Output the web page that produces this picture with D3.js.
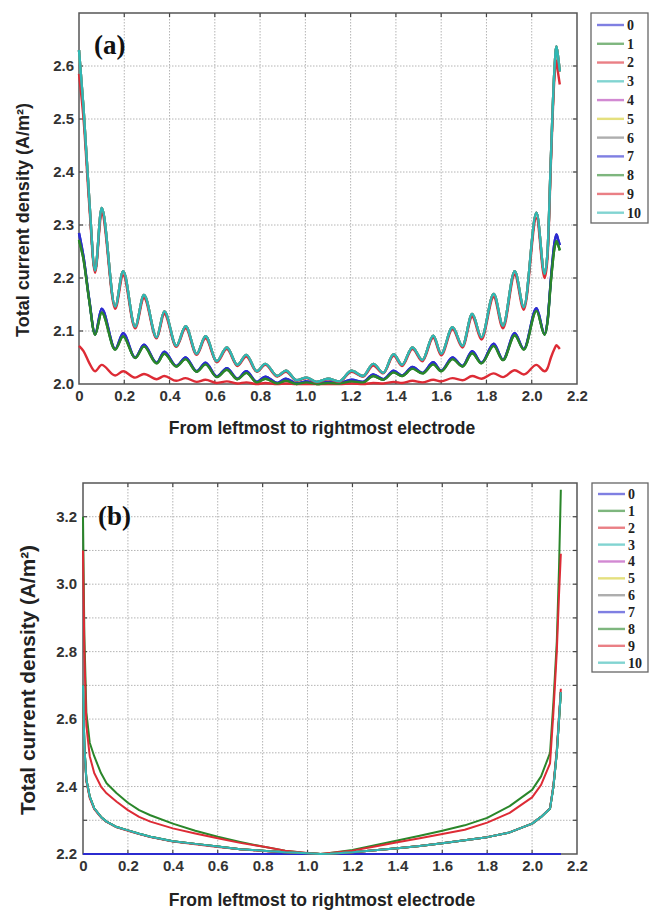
<!DOCTYPE html>
<html>
<head>
<meta charset="utf-8">
<script src="https://cdn.jsdelivr.net/npm/d3@7"></script>
<style>
  html, body { margin: 0; padding: 0; background: #fff; }
  svg { display: block; }
</style>
</head>
<body>
<svg id="chart" width="649" height="911"></svg>
<script>
// ---- shared labels ----
const seriesNames = ['0', '1', '2', '3', '4', '5', '6', '7', '8', '9', '10'];
const seriesColors = ['#2b2bd0', '#2a862a', '#dd2b35', '#2fb8b4', '#b53cb5', '#d4cc2a',
                      '#7a7a7a', '#2b2bd0', '#2a862a', '#dd2b35', '#2fb8b4'];
const xTicks = [0, 0.2, 0.4, 0.6, 0.8, 1.0, 1.2, 1.4, 1.6, 1.8, 2.0, 2.2];
const xTitle = 'From leftmost to rightmost electrode';
const yTitle = 'Total current density (A/m\u00B2)';

// ---- panel (a): position along the electrode row ----
const positionsA = [0, 0.02, 0.045, 0.071, 0.10, 0.16, 0.195, 0.248, 0.287, 0.343, 0.377, 0.43,
  0.471, 0.52, 0.559, 0.609, 0.653, 0.70, 0.739, 0.786, 0.823, 0.876, 0.914, 0.962, 1.005, 1.05,
  1.1, 1.15, 1.204, 1.255, 1.30, 1.344, 1.39, 1.427, 1.473, 1.517, 1.565, 1.60, 1.65, 1.694,
  1.737, 1.778, 1.832, 1.873, 1.925, 1.965, 2.021, 2.057, 2.07, 2.085, 2.1, 2.109, 2.117, 2.124];
const densityAHigh = [2.630, 2.520, 2.350, 2.214, 2.332, 2.146, 2.213, 2.108, 2.168, 2.088, 2.137,
  2.072, 2.109, 2.057, 2.090, 2.043, 2.069, 2.036, 2.055, 2.024, 2.038, 2.015, 2.025, 2.007, 2.012,
  2.004, 2.010, 2.005, 2.025, 2.015, 2.038, 2.021, 2.056, 2.036, 2.069, 2.045, 2.091, 2.057, 2.107,
  2.072, 2.132, 2.088, 2.170, 2.110, 2.213, 2.145, 2.323, 2.208, 2.250, 2.430, 2.590, 2.637, 2.615, 2.590];
const densityAHigh9 = [2.585, 2.500, 2.340, 2.210, 2.322, 2.142, 2.205, 2.105, 2.162, 2.086, 2.132,
  2.070, 2.105, 2.055, 2.086, 2.041, 2.066, 2.034, 2.052, 2.023, 2.036, 2.014, 2.023, 2.006, 2.011,
  2.003, 2.009, 2.004, 2.023, 2.014, 2.035, 2.020, 2.053, 2.034, 2.066, 2.043, 2.087, 2.054, 2.103,
  2.069, 2.127, 2.084, 2.164, 2.105, 2.206, 2.140, 2.313, 2.200, 2.240, 2.420, 2.575, 2.610, 2.585, 2.565];
const densityAMid7 = [2.285, 2.240, 2.160, 2.094, 2.142, 2.066, 2.096, 2.050, 2.074, 2.040, 2.061,
  2.034, 2.050, 2.024, 2.040, 2.014, 2.030, 2.010, 2.024, 2.004, 2.014, 2.002, 2.010, 2.001, 2.005,
  2.001, 2.004, 2.002, 2.008, 2.004, 2.018, 2.009, 2.025, 2.016, 2.032, 2.021, 2.041, 2.025, 2.050,
  2.034, 2.062, 2.040, 2.076, 2.046, 2.096, 2.066, 2.143, 2.094, 2.120, 2.200, 2.265, 2.282, 2.272, 2.262];
const densityAMid8 = [2.272, 2.235, 2.158, 2.093, 2.135, 2.065, 2.090, 2.049, 2.071, 2.039, 2.057,
  2.033, 2.047, 2.023, 2.037, 2.013, 2.027, 2.009, 2.021, 2.003, 2.010, 2.001, 2.006, 2.000, 2.003,
  2.000, 2.002, 2.001, 2.005, 2.003, 2.015, 2.008, 2.022, 2.015, 2.029, 2.020, 2.037, 2.024, 2.047,
  2.033, 2.058, 2.039, 2.072, 2.045, 2.092, 2.065, 2.138, 2.093, 2.118, 2.195, 2.255, 2.270, 2.262, 2.252];
const densityALow = [2.072, 2.062, 2.040, 2.024, 2.036, 2.016, 2.024, 2.012, 2.019, 2.009, 2.015,
  2.006, 2.011, 2.004, 2.008, 2.002, 2.005, 2.001, 2.003, 2.000, 2.002, 2.000, 2.001, 2.000, 2.000,
  2.000, 2.000, 2.000, 2.001, 2.000, 2.002, 2.001, 2.004, 2.002, 2.006, 2.003, 2.008, 2.005, 2.011,
  2.007, 2.015, 2.010, 2.020, 2.013, 2.026, 2.018, 2.036, 2.024, 2.030, 2.050, 2.066, 2.073, 2.070, 2.066];
const yTicksA = [2.0, 2.1, 2.2, 2.3, 2.4, 2.5, 2.6];
const yGridA = [2.1, 2.2, 2.3, 2.4, 2.5, 2.6];

// ---- panel (b) ----
const positionsB = [0, 0.006, 0.015, 0.03, 0.05, 0.08, 0.105, 0.15, 0.2, 0.25, 0.3, 0.4, 0.5, 0.6,
  0.7, 0.8, 0.9, 1.0, 1.056, 1.1, 1.2, 1.3, 1.4, 1.5, 1.6, 1.7, 1.8, 1.9, 2.0, 2.04, 2.08, 2.095,
  2.11, 2.12, 2.128];
const densityBTop = [3.20, 2.85, 2.62, 2.53, 2.49, 2.44, 2.41, 2.38, 2.352, 2.33, 2.315, 2.29, 2.269,
  2.251, 2.236, 2.222, 2.21, 2.202, 2.20, 2.203, 2.212, 2.226, 2.24, 2.254, 2.269, 2.285, 2.307,
  2.342, 2.39, 2.43, 2.50, 2.65, 2.83, 3.05, 3.28];
const densityBMid = [3.10, 2.80, 2.58, 2.49, 2.44, 2.40, 2.38, 2.355, 2.33, 2.31, 2.296, 2.276,
  2.261, 2.247, 2.233, 2.222, 2.21, 2.203, 2.20, 2.203, 2.21, 2.222, 2.235, 2.247, 2.259, 2.272,
  2.293, 2.322, 2.368, 2.405, 2.469, 2.62, 2.80, 2.97, 3.09];
const densityBLow = [2.70, 2.52, 2.42, 2.37, 2.335, 2.31, 2.296, 2.28, 2.27, 2.26, 2.251, 2.238,
  2.23, 2.222, 2.214, 2.21, 2.205, 2.202, 2.20, 2.201, 2.205, 2.211, 2.217, 2.224, 2.232, 2.241,
  2.25, 2.264, 2.29, 2.31, 2.335, 2.40, 2.50, 2.60, 2.68];
const densityBLow9 = [2.69, 2.51, 2.415, 2.366, 2.333, 2.309, 2.295, 2.279, 2.269, 2.259, 2.25,
  2.237, 2.229, 2.221, 2.214, 2.209, 2.205, 2.202, 2.20, 2.201, 2.205, 2.211, 2.217, 2.224, 2.232,
  2.241, 2.25, 2.264, 2.29, 2.31, 2.336, 2.405, 2.51, 2.61, 2.69];
const densityBFlat = [2.2, 2.2, 2.2, 2.2, 2.2, 2.2, 2.2, 2.2, 2.2, 2.2, 2.2, 2.2, 2.2, 2.2, 2.2,
  2.2, 2.2, 2.2, 2.2, 2.2, 2.2, 2.2, 2.2, 2.2, 2.2, 2.2, 2.2, 2.2, 2.2, 2.2, 2.2, 2.2, 2.2, 2.2, 2.2];
const yTicksB = [2.2, 2.4, 2.6, 2.8, 3.0, 3.2];
const yGridB = [2.3, 2.4, 2.5, 2.6, 2.7, 2.8, 2.9, 3.0, 3.1, 3.2];

// series 0..10 in drawing order (later ones sit on top)
const seriesA = [densityAMid7, densityAMid8, densityALow, densityAHigh, densityAHigh, densityAHigh,
  densityAHigh, densityAMid7, densityAMid8, densityAHigh9, densityAHigh];
const seriesB = [densityBFlat, densityBTop, densityBMid, densityBLow, densityBLow, densityBLow,
  densityBLow, densityBFlat, densityBLow, densityBLow9, densityBLow];

const svg = d3.select('#chart');
const sans = "'Liberation Sans', Arial, sans-serif";
const serif = "'Liberation Serif', 'Times New Roman', serif";

function drawPanel(cfg) {
  const g = svg.append('g');
  const x = d3.scaleLinear([0, 2.2], [cfg.left, cfg.right]);
  const y = d3.scaleLinear(cfg.yDomain, [cfg.bottom, cfg.top]);

  // dotted grid
  const grid = g.append('g').attr('stroke', '#b4b4b4').attr('stroke-width', 1)
    .attr('stroke-dasharray', '1.5,1.5');
  grid.selectAll('line.v').data(xTicks.slice(1, -1)).join('line').attr('class', 'v')
    .attr('x1', d => x(d)).attr('x2', d => x(d)).attr('y1', cfg.top).attr('y2', cfg.bottom);
  grid.selectAll('line.h').data(cfg.yGrid).join('line').attr('class', 'h')
    .attr('y1', d => y(d)).attr('y2', d => y(d)).attr('x1', cfg.left).attr('x2', cfg.right);

  // inward tick marks on all four sides
  const tk = g.append('g').attr('stroke', '#444').attr('stroke-width', 1.2);
  xTicks.slice(1, -1).forEach(d => {
    tk.append('line').attr('x1', x(d)).attr('x2', x(d)).attr('y1', cfg.top).attr('y2', cfg.top + 4);
    tk.append('line').attr('x1', x(d)).attr('x2', x(d)).attr('y1', cfg.bottom).attr('y2', cfg.bottom - 4);
  });
  cfg.yGrid.forEach(d => {
    tk.append('line').attr('y1', y(d)).attr('y2', y(d)).attr('x1', cfg.left).attr('x2', cfg.left + 4);
    tk.append('line').attr('y1', y(d)).attr('y2', y(d)).attr('x1', cfg.right).attr('x2', cfg.right - 4);
  });

  // frame
  g.append('rect').attr('x', cfg.left).attr('y', cfg.top)
    .attr('width', cfg.right - cfg.left).attr('height', cfg.bottom - cfg.top)
    .attr('fill', 'none').attr('stroke', '#555').attr('stroke-width', 1.5);

  // current density curves
  const line = d3.line()
    .x((d, i) => x(cfg.positions[i]))
    .y(d => y(d))
    .curve(cfg.curve);
  g.append('g').selectAll('path').data(cfg.series).join('path')
    .attr('d', d => line(d))
    .attr('fill', 'none')
    .attr('stroke', (d, i) => seriesColors[i])
    .attr('stroke-width', cfg.lineWidth)
    .attr('stroke-linejoin', 'round');

  // tick labels
  const fmtX = d => d === 0 ? '0' : d3.format('.1f')(d);
  const ax = g.append('g').attr('transform', `translate(0,${cfg.bottom})`)
    .call(d3.axisBottom(x).tickValues(xTicks).tickFormat(fmtX).tickSize(0).tickPadding(cfg.xPad));
  const ay = g.append('g').attr('transform', `translate(${cfg.left},0)`)
    .call(d3.axisLeft(y).tickValues(cfg.yTicks).tickFormat(d3.format('.1f')).tickSize(0).tickPadding(cfg.yPad));
  [ax, ay].forEach(a => {
    a.select('.domain').remove();
    a.selectAll('text').attr('font-family', sans).attr('font-weight', 'bold')
      .attr('font-size', 15).attr('fill', '#333');
  });

  // axis titles
  g.append('text').attr('x', cfg.xTitleX).attr('y', cfg.xTitleY)
    .attr('text-anchor', 'middle').attr('font-family', sans).attr('font-weight', 'bold')
    .attr('font-size', 17.5).attr('fill', '#222').text(xTitle);
  g.append('text')
    .attr('transform', `translate(${cfg.yTitleX},${cfg.yTitleY}) rotate(-90)`)
    .attr('text-anchor', 'middle').attr('font-family', sans).attr('font-weight', 'bold')
    .attr('font-size', cfg.yTitleSize).attr('fill', '#222')
    .attr('textLength', cfg.yTitleLen).attr('lengthAdjust', 'spacingAndGlyphs')
    .text(yTitle);

  // panel tag
  g.append('text').attr('x', cfg.left + 15).attr('y', cfg.tagY)
    .attr('font-family', serif).attr('font-weight', 'bold').attr('font-size', 27)
    .attr('fill', '#111').text(cfg.tag);

  // legend
  const lg = g.append('g');
  lg.append('rect').attr('x', cfg.legX).attr('y', cfg.legTop)
    .attr('width', cfg.legW).attr('height', cfg.legH)
    .attr('fill', '#fff').attr('stroke', '#666').attr('stroke-width', 1.3);
  const items = lg.selectAll('g.item').data(seriesNames).join('g').attr('class', 'item')
    .attr('transform', (d, i) => `translate(0,${cfg.legY0 + i * cfg.legDy})`);
  items.append('line').attr('x1', cfg.legX + 6).attr('x2', cfg.legX + 33)
    .attr('stroke', (d, i) => seriesColors[i]).attr('stroke-width', 2.4).attr('opacity', 0.6);
  items.append('text').attr('x', cfg.legX + 36).attr('dy', '0.35em')
    .attr('font-family', serif).attr('font-weight', 'bold').attr('font-size', 14)
    .attr('fill', '#222').text(d => d);
}

drawPanel({
  left: 79, right: 577, top: 13, bottom: 384, yDomain: [2.0, 2.7],
  yTicks: yTicksA, yGrid: yGridA, positions: positionsA, series: seriesA,
  curve: d3.curveMonotoneX, lineWidth: 2.4, xPad: 6, yPad: 5,
  xTitleX: 322, xTitleY: 434, yTitleX: 29, yTitleY: 220, yTitleSize: 18, yTitleLen: 234,
  tag: '(a)', tagY: 54,
  legX: 591, legTop: 13, legW: 57, legH: 210, legY0: 25, legDy: 18.77
});

drawPanel({
  left: 83, right: 577, top: 483, bottom: 854, yDomain: [2.2, 3.3],
  yTicks: yTicksB, yGrid: yGridB, positions: positionsB, series: seriesB,
  curve: d3.curveLinear, lineWidth: 2.0, xPad: 6, yPad: 6,
  xTitleX: 322, xTitleY: 906, yTitleX: 35, yTitleY: 680, yTitleSize: 21, yTitleLen: 270,
  tag: '(b)', tagY: 525,
  legX: 592, legTop: 483, legW: 56, legH: 189, legY0: 494, legDy: 16.87
});
</script>
</body>
</html>
